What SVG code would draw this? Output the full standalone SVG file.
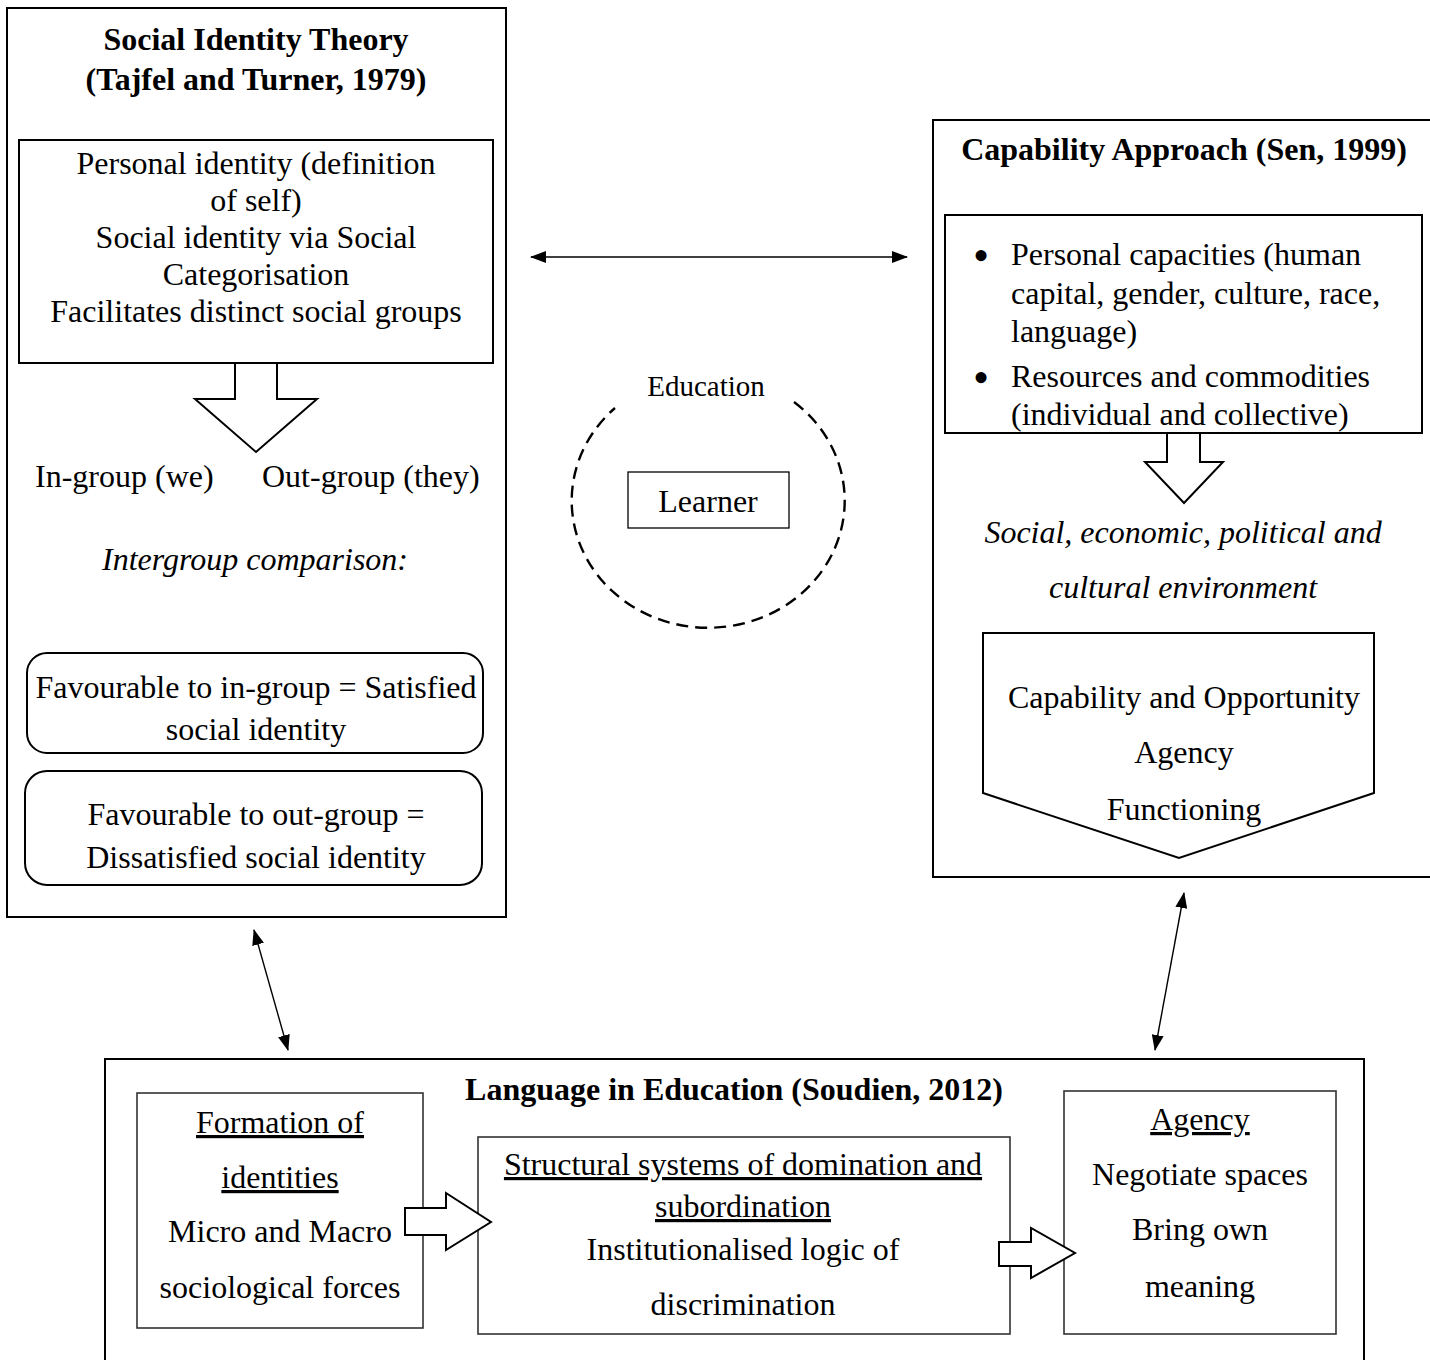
<svg xmlns="http://www.w3.org/2000/svg" width="1430" height="1360" viewBox="0 0 1430 1360">
<defs>
<style>
text{font-family:"Liberation Serif","Times New Roman",serif;font-size:32px;fill:#000}
.c{text-anchor:middle}
.b{font-weight:bold}
.i{font-style:italic}
.u{text-decoration:underline}
.bul{font-size:46px}
.box{fill:none;stroke:#000;stroke-width:2}
.thin{fill:#fff;stroke:#333;stroke-width:1.6}
.blk{fill:#fff;stroke:#000;stroke-width:2;stroke-linejoin:miter}
.con{fill:none;stroke:#000;stroke-width:1.4}
</style>
<marker id="ah" viewBox="0 0 16 12" markerWidth="16" markerHeight="12" refX="15" refY="6" markerUnits="userSpaceOnUse" orient="auto-start-reverse">
<path d="M0,0 L16,6 L0,12 z" fill="#000"/>
</marker>
</defs>
<rect width="1430" height="1360" fill="#fff"/>

<g id="social-identity-theory">
<rect class="box" x="7" y="8" width="499" height="909"/>
<text class="c b" x="256" y="50">Social Identity Theory</text>
<text class="c b" x="256" y="90">(Tajfel and Turner, 1979)</text>
<rect class="box" x="19" y="140" width="474" height="223" stroke-width="2.5"/>
<text class="c" x="256" y="174">Personal identity (definition</text>
<text class="c" x="256" y="211">of self)</text>
<text class="c" x="256" y="248">Social identity via Social</text>
<text class="c" x="256" y="285">Categorisation</text>
<text class="c" x="256" y="322">Facilitates distinct social groups</text>
<polygon class="blk" points="235,363 235,399 195,399 256,452 317,399 277,399 277,363"/>
<text x="35" y="487">In-group (we)</text>
<text x="262" y="487">Out-group (they)</text>
<text class="c i" x="255" y="570">Intergroup comparison:</text>
<rect class="box" x="27" y="653" width="456" height="100" rx="20"/>
<text class="c" x="256" y="698">Favourable to in-group = Satisfied</text>
<text class="c" x="256" y="740">social identity</text>
<rect class="box" x="25" y="771" width="457" height="114" rx="22"/>
<text class="c" x="256" y="825">Favourable to out-group =</text>
<text class="c" x="256" y="868">Dissatisfied social identity</text>
</g>

<g id="education-learner">
<path d="M794,402 A136.5,127 0 1 1 615,408" fill="none" stroke="#000" stroke-width="2.4" stroke-dasharray="12,7"/>
<text class="c" x="706" y="396" style="font-size:29px">Education</text>
<rect x="628" y="472" width="161" height="56" fill="none" stroke="#000" stroke-width="1.3"/>
<text class="c" x="708" y="512">Learner</text>
</g>

<g id="capability-approach">
<rect class="box" x="933" y="120" width="510" height="757"/>
<text class="c b" x="1184" y="160">Capability Approach (Sen, 1999)</text>
<rect class="box" x="945" y="215" width="477" height="218" stroke-width="2.5"/>
<text class="c bul" x="981" y="271">•</text>
<text x="1011" y="265">Personal capacities (human</text>
<text x="1011" y="304">capital, gender, culture, race,</text>
<text x="1011" y="342">language)</text>
<text class="c bul" x="981" y="393">•</text>
<text x="1011" y="387">Resources and commodities</text>
<text x="1011" y="425">(individual and collective)</text>
<polygon class="blk" points="1167,433 1167,462 1145,462 1184,503 1223,462 1200,462 1200,433"/>
<text class="c i" x="1183" y="543">Social, economic, political and</text>
<text class="c i" x="1183" y="598">cultural environment</text>
<polygon class="blk" points="983,633 1374,633 1374,793 1179,858 983,793"/>
<text class="c" x="1184" y="708">Capability and Opportunity</text>
<text class="c" x="1184" y="763">Agency</text>
<text class="c" x="1184" y="820">Functioning</text>
</g>

<g id="language-in-education">
<rect class="box" x="105" y="1059" width="1259" height="330"/>
<text class="c b" x="734" y="1100">Language in Education (Soudien, 2012)</text>
<g id="formation-of-identities">
<rect class="thin" x="137" y="1093" width="286" height="235"/>
<text class="c u" x="280" y="1133">Formation of</text>
<text class="c u" x="280" y="1188">identities</text>
<text class="c" x="280" y="1242">Micro and Macro</text>
<text class="c" x="280" y="1298">sociological forces</text>
</g>
<g id="structural-systems">
<rect class="thin" x="478" y="1137" width="532" height="197"/>
<text class="c u" x="743" y="1175">Structural systems of domination and</text>
<text class="c u" x="743" y="1217">subordination</text>
<text class="c" x="743" y="1260">Institutionalised logic of</text>
<text class="c" x="743" y="1315">discrimination</text>
</g>
<g id="agency">
<rect class="thin" x="1064" y="1091" width="272" height="243"/>
<text class="c u" x="1200" y="1130">Agency</text>
<text class="c" x="1200" y="1185">Negotiate spaces</text>
<text class="c" x="1200" y="1240">Bring own</text>
<text class="c" x="1200" y="1297">meaning</text>
</g>
<polygon class="blk" points="405,1208 446,1208 446,1193 491,1222 446,1250 446,1235 405,1235"/>
<polygon class="blk" points="999,1242 1031,1242 1031,1228 1075,1253 1031,1278 1031,1266 999,1266"/>
</g>

<g id="connectors">
<line class="con" x1="531" y1="257" x2="907" y2="257" marker-start="url(#ah)" marker-end="url(#ah)"/>
<line class="con" x1="254" y1="930" x2="288" y2="1050" marker-start="url(#ah)" marker-end="url(#ah)"/>
<line class="con" x1="1184" y1="893" x2="1155" y2="1050" marker-start="url(#ah)" marker-end="url(#ah)"/>
</g>
</svg>
